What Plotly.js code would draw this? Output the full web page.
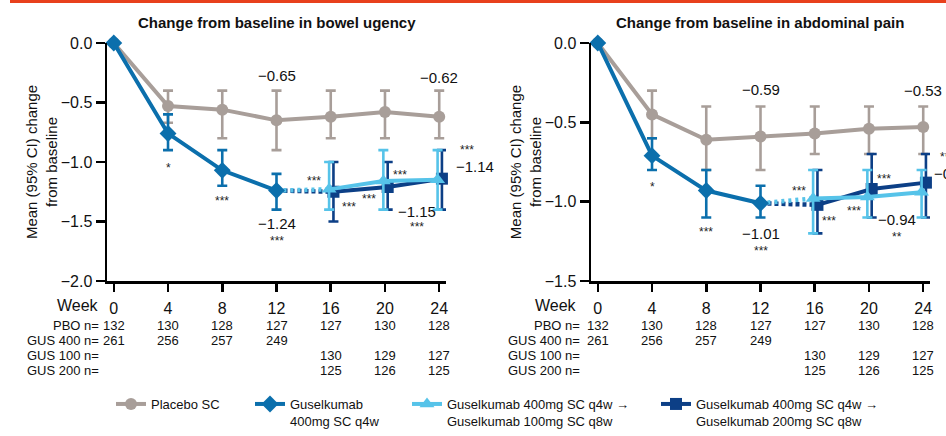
<!DOCTYPE html>
<html>
<head>
<meta charset="utf-8">
<script src="https://cdn.plot.ly/plotly-3.0.1.min.js"></script>
<style>
html,body{margin:0;padding:0;background:#fff;}
#chart{width:946px;height:436px;}
</style>
</head>
<body>
<div id="chart"></div>
<script>
// ---------- DATA ----------
const weeks = [0, 4, 8, 12, 16, 20, 24];
const weeksInduction = [0, 4, 8, 12];
const weeksMaint = [16, 20, 24];

// Bowel urgency
const buPboMean  = [0, -0.53, -0.56, -0.65, -0.62, -0.58, -0.62];
const buPboUpper = [null, -0.40, -0.40, -0.40, -0.40, -0.40, -0.40];
const buPboLower = [null, -0.67, -0.80, -0.90, -0.80, -0.80, -0.80];
const buG400Mean  = [0, -0.76, -1.07, -1.24];
const buG400Upper = [null, -0.60, -0.90, -1.10];
const buG400Lower = [null, -0.90, -1.20, -1.40];
const buG100Mean  = [-1.23, -1.16, -1.15];
const buG100Upper = [-1.00, -0.90, -0.90];
const buG100Lower = [-1.40, -1.40, -1.40];
const buG200Mean  = [-1.25, -1.21, -1.14];
const buG200Upper = [-1.00, -1.00, -0.90];
const buG200Lower = [-1.50, -1.40, -1.40];

// Abdominal pain
const apPboMean  = [0, -0.45, -0.61, -0.59, -0.57, -0.54, -0.53];
const apPboUpper = [null, -0.30, -0.40, -0.40, -0.40, -0.40, -0.40];
const apPboLower = [null, -0.60, -0.80, -0.80, -0.70, -0.70, -0.70];
const apG400Mean  = [0, -0.71, -0.93, -1.01];
const apG400Upper = [null, -0.60, -0.80, -0.90];
const apG400Lower = [null, -0.80, -1.10, -1.10];
const apG100Mean  = [-0.98, -0.97, -0.94];
const apG100Upper = [-0.80, -0.80, -0.80];
const apG100Lower = [-1.20, -1.10, -1.10];
const apG200Mean  = [-1.02, -0.92, -0.88];
const apG200Upper = [-0.80, -0.70, -0.70];
const apG200Lower = [-1.20, -1.10, -1.10];

// n at risk
const rowLabels = ['PBO n=', 'GUS 400 n=', 'GUS 100 n=', 'GUS 200 n='];
const pboN    = [132, 130, 128, 127, 127, 130, 128];
const gus400N = [261, 256, 257, 249, null, null, null];
const gus100N = [null, null, null, null, 130, 129, 127];
const gus200N = [null, null, null, null, 125, 126, 125];

// labels
const seriesNames = ['Placebo SC', 'Guselkumab<br>400mg SC q4w',
  'Guselkumab 400mg SC q4w →<br>Guselkumab 100mg SC q8w',
  'Guselkumab 400mg SC q4w →<br>Guselkumab 200mg SC q8w'];
const panelTitles = ['Change from baseline in bowel ugency', 'Change from baseline in abdominal pain'];

// value / significance labels inside the axes: [text, week, y]
const buLabels = [
  ['−0.65', 12, -0.27], ['−0.62', 24, -0.29],
  ['−1.24', 12, -1.52], ['−1.15', 22.35, -1.42]
];
const buStars = [
  ['*', 4, -1.05], ['***', 8, -1.33], ['***', 12, -1.66],
  ['***', 14.76, -1.16], ['***', 17.35, -1.38], ['***', 18.8, -1.31],
  ['***', 21.1, -1.11], ['***', 22.35, -1.55]
];
const apLabels = [
  ['−0.59', 12, -0.29], ['−0.53', 24, -0.30],
  ['−1.01', 12, -1.20], ['−0.94', 22.07, -1.11]
];
const apStars = [
  ['*', 4, -0.91], ['***', 8, -1.19], ['***', 12, -1.31],
  ['***', 14.82, -0.93], ['***', 17.08, -1.12], ['***', 18.87, -1.06],
  ['***', 21.08, -0.86], ['**', 22.07, -1.22]
];
// labels beside week 24, outside the axes: [value text, star text]
const buSide = ['−1.14', '***'];
const apSide = ['−0.88', '***'];

// ---------- STYLE ----------
const cPbo = '#a89e99', c400 = '#0b6fac', c100 = '#56c3e9', c200 = '#0c3f86';
const FONT = 'Liberation Sans, Arial, sans-serif';
const offLight = -0.12, offNavy = 0.2;
const W = 946, H = 436;

function err(mean, up, lo) {
  return {
    type: 'data', symmetric: false,
    array: mean.map((m, i) => up[i] == null ? null : up[i] - m),
    arrayminus: mean.map((m, i) => lo[i] == null ? null : m - lo[i]),
    thickness: 2.6, width: 5
  };
}

function panel(xa, ya, d, showLegend) {
  const tr = [];
  tr.push({x: weeks, y: d.pboMean, mode: 'lines+markers', name: seriesNames[0], showlegend: showLegend, legend: 'legend',
    xaxis: xa, yaxis: ya, cliponaxis: false,
    line: {color: cPbo, width: 4}, marker: {symbol: 'circle', size: 12, color: cPbo},
    error_y: Object.assign(err(d.pboMean, d.pboUpper, d.pboLower), {color: cPbo})});
  // dotted bridges week 12 -> 16 (drawn beneath the week-12 marker)
  const last = d.g400Mean[d.g400Mean.length - 1];
  tr.push({x: [weeksInduction[3], weeksMaint[0] + offNavy], y: [last, d.g200Mean[0]], mode: 'lines', showlegend: false,
    xaxis: xa, yaxis: ya, hoverinfo: 'skip', line: {color: c200, width: 4.5, dash: '4px,3px'}});
  tr.push({x: [weeksInduction[3], weeksMaint[0] + offLight], y: [last, d.g100Mean[0]], mode: 'lines', showlegend: false,
    xaxis: xa, yaxis: ya, hoverinfo: 'skip', line: {color: c100, width: 4.5, dash: '3px,4px'}});
  tr.push({x: weeksInduction, y: d.g400Mean, mode: 'lines+markers', name: seriesNames[1], showlegend: showLegend, legend: 'legend2',
    xaxis: xa, yaxis: ya, cliponaxis: false,
    line: {color: c400, width: 4}, marker: {symbol: 'diamond', size: 13, color: c400},
    error_y: Object.assign(err(d.g400Mean, d.g400Upper, d.g400Lower), {color: c400})});
  tr.push({x: weeksMaint.map(w => w + offNavy), y: d.g200Mean, mode: 'lines+markers', name: seriesNames[3], showlegend: showLegend, legend: 'legend4',
    xaxis: xa, yaxis: ya, cliponaxis: false,
    line: {color: c200, width: 4}, marker: {symbol: 'square', size: 12, color: c200},
    error_y: Object.assign(err(d.g200Mean, d.g200Upper, d.g200Lower), {color: c200})});
  tr.push({x: weeksMaint.map(w => w + offLight), y: d.g100Mean, mode: 'lines+markers', name: seriesNames[2], showlegend: showLegend, legend: 'legend3',
    xaxis: xa, yaxis: ya, cliponaxis: false,
    line: {color: c100, width: 4}, marker: {symbol: 'triangle-up', size: 13, color: c100},
    error_y: Object.assign(err(d.g100Mean, d.g100Upper, d.g100Lower), {color: c100})});
  return tr;
}

const data = [].concat(
  panel('x', 'y', {pboMean: buPboMean, pboUpper: buPboUpper, pboLower: buPboLower,
    g400Mean: buG400Mean, g400Upper: buG400Upper, g400Lower: buG400Lower,
    g100Mean: buG100Mean, g100Upper: buG100Upper, g100Lower: buG100Lower,
    g200Mean: buG200Mean, g200Upper: buG200Upper, g200Lower: buG200Lower}, true),
  panel('x2', 'y2', {pboMean: apPboMean, pboUpper: apPboUpper, pboLower: apPboLower,
    g400Mean: apG400Mean, g400Upper: apG400Upper, g400Lower: apG400Lower,
    g100Mean: apG100Mean, g100Upper: apG100Upper, g100Lower: apG100Lower,
    g200Mean: apG200Mean, g200Upper: apG200Upper, g200Lower: apG200Lower}, false)
);

const yTop = 1 - 43 / H, yBot = 1 - 281 / H;
function xAxis(dom, yref) {
  return {domain: dom, range: [-0.5, 24.5], tickvals: weeks, ticktext: weeks.map(String),
    ticks: 'outside', ticklen: 8, tickwidth: 2.5, tickcolor: '#000', ticklabelstandoff: 3,
    showline: true, linewidth: 2.5, linecolor: '#000', showgrid: false, zeroline: false,
    tickfont: {size: 16, color: '#111', family: FONT}, anchor: yref, fixedrange: true};
}
function yAxis(range, xref) {
  return {domain: [yBot, yTop], range: range, dtick: 0.5, tick0: 0, tickformat: '.1f',
    ticks: 'outside', ticklen: 9, tickwidth: 2.5, tickcolor: '#000',
    showline: true, linewidth: 2.5, linecolor: '#000', showgrid: false, zeroline: false,
    tickfont: {size: 16, color: '#111', family: FONT}, anchor: xref,
    title: {text: 'Mean (95% CI) change<br>from baseline', font: {size: 15, color: '#111', family: FONT}, standoff: 0}};
}

const annotations = [];
const panels = [
  {xr: 'x', yr: 'y', labels: buLabels, stars: buStars, side: buSide, title: panelTitles[0], tx: 276.5, week: 78, rowRight: 101,
    sideStar: [467, 150], sideVal: [454, 166]},
  {xr: 'x2', yr: 'y2', labels: apLabels, stars: apStars, side: apSide, title: panelTitles[1], tx: 760, week: 556, rowRight: 582,
    sideStar: [947, 157], sideVal: [932, 173]}
];
const rowY = [325.5, 340.5, 355.5, 370.5];
const rows = [pboN, gus400N, gus100N, gus200N];
panels.forEach(p => {
  annotations.push({xref: 'paper', yref: 'paper', x: p.tx / W, y: 1 - 22 / H, text: '<b>' + p.title + '</b>',
    showarrow: false, font: {size: 15, color: '#111', family: FONT}, xanchor: 'center', yanchor: 'middle'});
  p.labels.forEach(l => annotations.push({xref: p.xr, yref: p.yr, x: l[1], y: l[2], text: l[0], showarrow: false,
    font: {size: 15, color: '#111', family: FONT}, xanchor: 'center', yanchor: 'middle'}));
  p.stars.forEach(l => annotations.push({xref: p.xr, yref: p.yr, x: l[1], y: l[2], text: l[0], showarrow: false,
    font: {size: 12, color: '#222', family: FONT}, xanchor: 'center', yanchor: 'middle'}));
  annotations.push({xref: 'paper', yref: 'paper', x: p.sideVal[0] / W, y: 1 - p.sideVal[1] / H, text: p.side[0], showarrow: false,
    font: {size: 15, color: '#111', family: FONT}, xanchor: 'left', yanchor: 'middle'});
  annotations.push({xref: 'paper', yref: 'paper', x: p.sideStar[0] / W, y: 1 - p.sideStar[1] / H, text: p.side[1], showarrow: false,
    font: {size: 12, color: '#222', family: FONT}, xanchor: 'center', yanchor: 'middle'});
  annotations.push({xref: 'paper', yref: 'paper', x: p.week / W, y: 1 - 305 / H, text: 'Week', showarrow: false,
    font: {size: 16, color: '#111', family: FONT}, xanchor: 'center', yanchor: 'middle'});
  rows.forEach((r, ri) => {
    annotations.push({xref: 'paper', yref: 'paper', x: p.rowRight / W, y: 1 - rowY[ri] / H, text: rowLabels[ri], showarrow: false,
      font: {size: 13, color: '#111', family: FONT}, xanchor: 'right', yanchor: 'middle'});
    r.forEach((n, i) => {
      if (n == null) return;
      annotations.push({xref: p.xr, yref: 'paper', x: weeks[i], y: 1 - rowY[ri] / H, text: String(n), showarrow: false,
        font: {size: 13, color: '#111', family: FONT}, xanchor: 'center', yanchor: 'middle'});
    });
  });
});

function leg(px) {
  return {orientation: 'h', x: px / W, y: 1 - 389 / H, xanchor: 'left', yanchor: 'top',
    font: {size: 13, color: '#111', family: FONT}, valign: 'top', bgcolor: 'rgba(0,0,0,0)'};
}

const layout = {
  width: W, height: H, margin: {l: 0, r: 0, t: 0, b: 0, autoexpand: false},
  paper_bgcolor: '#fff', plot_bgcolor: '#fff',
  font: {family: FONT, color: '#111'},
  xaxis: xAxis([107 / W, 446 / W], 'y'),
  yaxis: yAxis([-2, 0], 'x'),
  xaxis2: xAxis([591 / W, 930 / W], 'y2'),
  yaxis2: yAxis([-1.5, 0], 'x2'),
  showlegend: true,
  legend: leg(111), legend2: leg(250), legend3: leg(407), legend4: leg(656),
  annotations: annotations,
  shapes: [{type: 'line', xref: 'paper', yref: 'paper', x0: 10 / W, x1: 1, y0: 1 - 1.5 / H, y1: 1 - 1.5 / H,
    line: {color: '#e8401c', width: 3}}]
};

Plotly.newPlot('chart', data, layout, {displayModeBar: false, staticPlot: true});
</script>
</body>
</html>
